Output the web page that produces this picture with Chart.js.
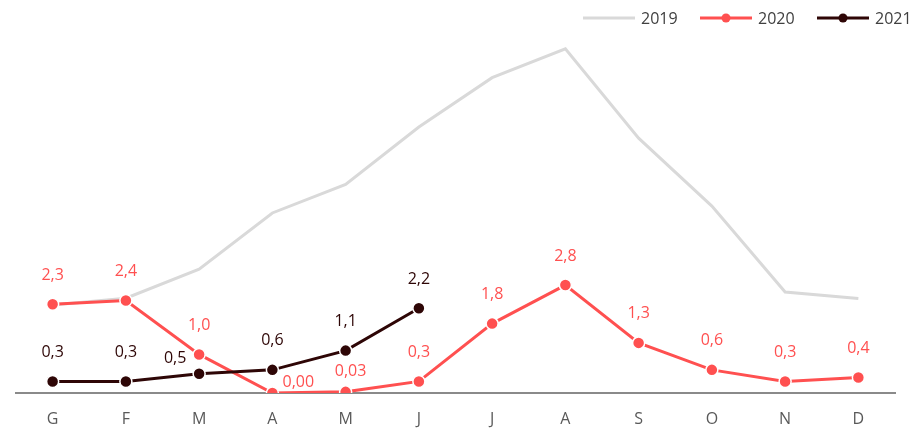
<!DOCTYPE html>
<html>
<head>
<meta charset="utf-8">
<script src="https://cdn.jsdelivr.net/npm/chart.js@4.4.0/dist/chart.umd.min.js"></script>
<style>
  html, body { margin: 0; padding: 0; background: #fff; }
  #wrap { width: 916px; height: 429px; position: relative; }
</style>
</head>
<body>
<div id="wrap"><canvas id="chart"></canvas></div>
<script>
// months (Italian initials)
const months = ["G","F","M","A","M","J","J","A","S","O","N","D"];

const values2019 = [2.28, 2.46, 3.21, 4.67, 5.41, 6.90, 8.18, 8.93, 6.61, 4.85, 2.62, 2.45];
const values2020 = [2.3, 2.4, 1.0, 0.00, 0.03, 0.3, 1.8, 2.8, 1.3, 0.6, 0.3, 0.4];
const values2021 = [0.3, 0.3, 0.5, 0.6, 1.1, 2.2];

const colors = {
  grey: "#d9d9d9",
  red: "#ff5050",
  dark: "#2e0606",
  axis: "#595959"
};

const FONT = "'Open Sans', 'Noto Sans', sans-serif";

// label nudges [dx, dy] for crowded labels (dy = distance above point)
const labelNudge = {
  "2020": { 3: [26, 11], 4: [5, 20] },
  "2021": { 2: [-24, 15] }
};

function fmt(v) {
  const s = v < 0.1 ? v.toFixed(2) : v.toFixed(1);
  return s.replace(".", ",");
}

// data labels above points
const valueLabels = {
  id: "valueLabels",
  afterDatasetsDraw(chart) {
    const ctx = chart.ctx;
    ctx.save();
    ctx.font = "16px " + FONT;
    ctx.textAlign = "center";
    ctx.textBaseline = "middle";
    chart.data.datasets.forEach((ds, di) => {
      if (!ds.showLabels) return;
      const meta = chart.getDatasetMeta(di);
      ctx.fillStyle = ds.borderColor;
      meta.data.forEach((pt, i) => {
        const n = (labelNudge[ds.label] || {})[i];
        const dx = n ? n[0] : 0;
        const dy = n ? n[1] : 29;
        ctx.fillText(fmt(ds.data[i]), pt.x + dx, pt.y - dy);
      });
    });
    ctx.restore();
  }
};

// legend: line with marker, top right
const topLegend = {
  id: "topLegend",
  afterDraw(chart) {
    const ctx = chart.ctx;
    const y = 18;
    const items = [
      { x: 583, ds: chart.data.datasets[0] },
      { x: 700, ds: chart.data.datasets[1] },
      { x: 817, ds: chart.data.datasets[2] }
    ];
    ctx.save();
    ctx.font = "16px " + FONT;
    ctx.textBaseline = "middle";
    ctx.textAlign = "left";
    items.forEach(it => {
      ctx.strokeStyle = it.ds.borderColor;
      ctx.lineWidth = 3;
      ctx.beginPath();
      ctx.moveTo(it.x, y);
      ctx.lineTo(it.x + 52, y);
      ctx.stroke();
      if (it.ds.pointRadius > 0) {
        ctx.fillStyle = it.ds.borderColor;
        ctx.beginPath();
        ctx.arc(it.x + 26, y, 4.5, 0, Math.PI * 2);
        ctx.fill();
      }
      ctx.fillStyle = "#404040";
      ctx.fillText(it.ds.label, it.x + 58, y + 1);
    });
    ctx.restore();
  }
};

const ctx = document.getElementById("chart").getContext("2d");
new Chart(ctx, {
  type: "line",
  data: {
    labels: months,
    datasets: [
      {
        label: "2019",
        data: values2019,
        borderColor: colors.grey,
        borderWidth: 3,
        pointRadius: 0,
        tension: 0,
        order: 3
      },
      {
        label: "2020",
        data: values2020,
        borderColor: colors.red,
        backgroundColor: colors.red,
        borderWidth: 3,
        pointRadius: 6,
        pointBorderColor: "#fff",
        pointBorderWidth: 1.5,
        tension: 0,
        order: 2,
        showLabels: true
      },
      {
        label: "2021",
        data: values2021,
        borderColor: colors.dark,
        backgroundColor: colors.dark,
        borderWidth: 3,
        pointRadius: 6,
        pointBorderColor: "#fff",
        pointBorderWidth: 1.5,
        tension: 0,
        order: 1,
        showLabels: true
      }
    ]
  },
  options: {
    responsive: true,
    maintainAspectRatio: false,
    animation: false,
    layout: { padding: { top: 7, left: 16, right: 21, bottom: 0 } },
    plugins: {
      legend: { display: false },
      tooltip: { enabled: false }
    },
    scales: {
      x: {
        offset: true,
        grid: { display: false, drawTicks: false },
        border: { display: true, color: "#8a8a8a", width: 2 },
        ticks: {
          color: colors.axis,
          padding: 17,
          font: { family: FONT, size: 16 }
        },
        afterFit(scale) { scale.height = 36; }
      },
      y: {
        display: false,
        min: 0,
        max: 10
      }
    }
  },
  plugins: [valueLabels, topLegend]
});
</script>
</body>
</html>
